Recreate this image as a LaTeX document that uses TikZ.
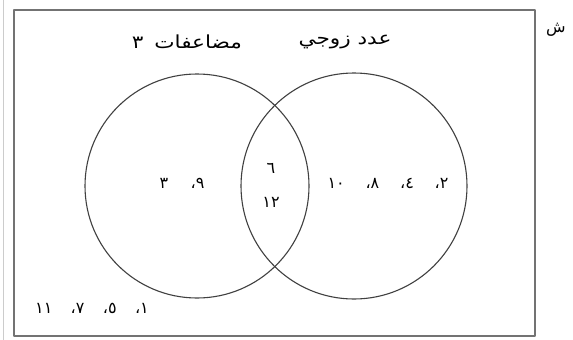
\documentclass[tikz,border=0pt]{standalone}
\usepackage{fontspec}
\newfontfamily\arabicfont[Script=Arabic]{DejaVu Sans}
\newfontfamily\arabicwide[Script=Arabic,FakeStretch=1.2]{DejaVu Sans}
\TeXXeTstate=1
\begin{document}
\begin{tikzpicture}[x=1pt,y=-1pt,line cap=round,line join=round,
  artext/.style={font=\arabicfont\fontsize{16}{18}\selectfont,inner sep=0pt,text=black},
  artitle/.style={font=\arabicwide\fontsize{18}{20}\selectfont,inner sep=0pt,text=black}]
  \useasboundingbox (0,0) rectangle (573,340);
  \draw[black!20,line width=1pt] (3,0) -- (3,340);
  \draw[black!55,line width=1.8pt] (14,10) rectangle (535,336);
  \draw[black!75,line width=1.1pt] (197,186) circle[radius=112];
  \draw[black!75,line width=1.1pt] (354,186) circle[radius=113];
  \node[artitle] (multthree) at (187,42) {\beginR مضاعفات\hspace{0.6em}٣\endR};
  \node[artitle] (evennum) at (345,42) {\beginR عدد زوجي\endR};
  \node[artext] (onlymult) at (182,183) {\beginR ٩،\hspace{1.4em}٣\endR};
  \node[artext] (bothsix) at (271,168) {٦};
  \node[artext] (bothtwelve) at (271,202) {١٢};
  \node[artext] (onlyeven) at (388,183) {\beginR ٢،\hspace{1.3em}٤،\hspace{1.3em}٨،\hspace{1.3em}١٠\endR};
  \node[artext] (outside) at (92,308) {\beginR ١،\hspace{1.15em}٥،\hspace{1.15em}٧،\hspace{1.15em}١١\endR};
  \node[artext,anchor=west] (cutoff) at (546,30) {ش};
\end{tikzpicture}
\end{document}
